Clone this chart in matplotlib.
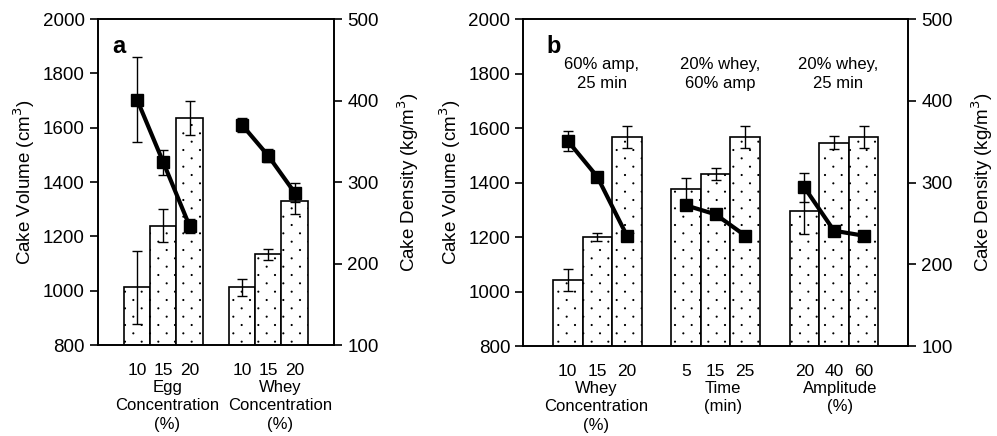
import numpy as np
import matplotlib
matplotlib.use("Agg")
import matplotlib.pyplot as plt
from matplotlib import hatch as mhatch
from matplotlib.path import Path
from matplotlib.transforms import blended_transform_factory

plt.rcParams['font.family'] = ['Liberation Sans', 'DejaVu Sans']
plt.rcParams['hatch.linewidth'] = 0.8

# ---------------- data ----------------
a_ticklabels = ["10", "15", "20", "10", "15", "20"]
a_groups = ["Egg\nConcentration\n(%)", "Whey\nConcentration\n(%)"]
a_volume = [1012, 1239, 1635, 1012, 1134, 1330]
a_volume_err = [135, 60, 63, 30, 21, 47]
a_density = [401, 324, 246, 370, 332, 287]
a_density_err = [52, 15, 8, 9, 8, 12]

b_ticklabels = ["10", "15", "20", "5", "15", "25", "20", "40", "60"]
b_groups = ["Whey\nConcentration\n(%)", "Time\n(min)", "Amplitude\n(%)"]
b_conditions = ["60% amp,\n25 min", "20% whey,\n60% amp", "20% whey,\n25 min"]
b_volume = [1042, 1201, 1566, 1375, 1431, 1566, 1294, 1546, 1566]
b_volume_err = [41, 15, 40, 40, 21, 40, 82, 23, 40]
b_density = [351, 307, 235, 272, 261, 235, 294, 241, 235]
b_density_err = [12, 5, 5, 5, 5, 5, 18, 5, 5]


# ---------- sparse staggered dot hatch (replaces the '.' pattern) ----------
class SparseDots(mhatch.HatchPatternBase):
    def __init__(self, hatch, density):
        circ = Path.unit_circle()
        self.shape_vertices = circ.vertices
        self.shape_codes = circ.codes
        self.centers = []
        if hatch.count('.') > 0:
            rows, cols = 12, 6
            for r in range(rows + 1):
                yy = r / rows
                if r % 2 == 0:
                    xs = np.linspace(0, 1, cols + 1)
                else:
                    xs = np.arange(cols) / cols + 0.5 / cols
                for xx in xs:
                    self.centers.append((xx, yy))
        self.num_vertices = len(self.centers) * len(self.shape_vertices)

    def set_vertices_and_codes(self, vertices, codes):
        n = len(self.shape_vertices)
        for i, (cx, cy) in enumerate(self.centers):
            vertices[i * n:(i + 1) * n] = self.shape_vertices * 0.005 + (cx, cy)
            codes[i * n:(i + 1) * n] = self.shape_codes


mhatch._hatch_types = [t for t in mhatch._hatch_types
                       if t is not mhatch.SmallFilledCircles] + [SparseDots]

YT = 13.5   # y tick labels
XT = 12.5   # x tick labels
GL = 12     # group labels
YL = 13.5   # axis labels

fig = plt.figure(figsize=(9.97, 4.36), dpi=100)


def panel(rect, ticklabels, groups, volume, vol_err, density, den_err, letter,
          group_label_shift, conditions=None):
    ax = fig.add_axes(rect)
    ngroups = len(groups)
    x = []
    for g in range(ngroups):
        x += [4 * g + i for i in range(3)]
    ax.bar(x, volume, width=1.0, bottom=0, color='white', edgecolor='black',
           linewidth=1.2, hatch='.', zorder=2)
    ax.errorbar(x, volume, yerr=vol_err, fmt='none', ecolor='black',
                elinewidth=1.0, capsize=3.5, capthick=1.0, zorder=3)
    ax.set_ylim(800, 2000)
    ax.set_yticks(range(800, 2001, 200))
    ax.set_xlim(-1.5, 4 * ngroups - 0.5)
    ax.set_xticks(x)
    ax.set_xticklabels(ticklabels, fontsize=XT)
    ax.tick_params(axis='x', length=0, pad=13)
    ax.tick_params(axis='y', labelsize=YT, length=6, width=1.2, direction='out')
    for s in ax.spines.values():
        s.set_linewidth(1.2)
    ax.set_ylabel("Cake Volume (cm$^3$)", fontsize=YL, labelpad=4)

    ax2 = ax.twinx()
    ax2.set_ylim(100, 500)
    ax2.set_yticks(range(100, 501, 100))
    ax2.tick_params(axis='y', labelsize=YT, length=6, width=1.2, direction='out')
    for g in range(ngroups):
        sl = slice(3 * g, 3 * g + 3)
        ax2.errorbar(x[sl], density[sl], yerr=den_err[sl], color='black',
                     linewidth=3.0, marker='s', markersize=9, ecolor='black',
                     elinewidth=1.0, capsize=3.5, capthick=1.0, zorder=4)
    ax2.set_ylabel("Cake Density (kg/m$^3$)", fontsize=YL, labelpad=12)
    for s in ax2.spines.values():
        s.set_linewidth(1.2)

    trans = blended_transform_factory(ax.transData, ax.transAxes)
    for g in range(ngroups):
        ax.annotate(groups[g], xy=(4 * g + 1 + group_label_shift[g], 0),
                    xycoords=trans, xytext=(0, -25), textcoords='offset points',
                    ha='center', va='top', fontsize=GL, linespacing=1.3)
    if conditions is not None:
        for g in range(ngroups):
            ax.text(4 * g + 1 + 0.15, 0.885, conditions[g], transform=trans,
                    ha='center', va='top', fontsize=GL, linespacing=1.35)
    ax.text(0.06, 0.915, letter, transform=ax.transAxes, fontsize=17,
            fontweight='bold', ha='left', va='center')
    return ax


panel([0.098, 0.2087, 0.237, 0.7477], a_ticklabels, a_groups, a_volume,
      a_volume_err, a_density, a_density_err, 'a', [0.15, 0.45])
panel([0.5249, 0.2064, 0.3858, 0.75], b_ticklabels, b_groups, b_volume,
      b_volume_err, b_density, b_density_err, 'b', [-0.05, 0.25, 0.2],
      conditions=b_conditions)

fig.savefig("out.png", dpi=100)
